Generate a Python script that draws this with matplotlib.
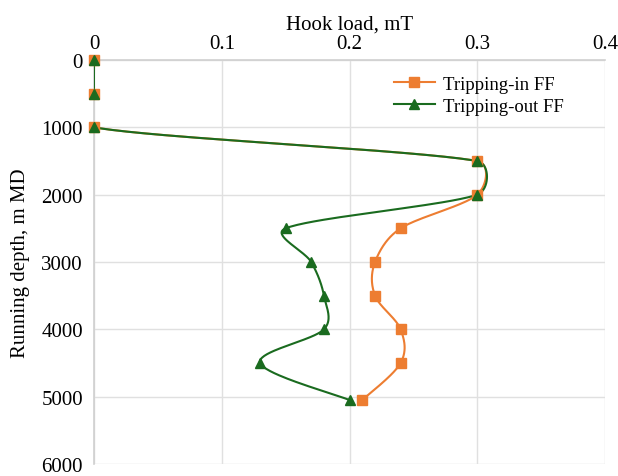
import numpy as np
import matplotlib
matplotlib.use('Agg')
import matplotlib.pyplot as plt
from matplotlib.lines import Line2D

plt.rcParams['font.family'] = ['Liberation Serif', 'DejaVu Serif']

# data
depth = [0, 500, 1000, 1500, 2000, 2500, 3000, 3500, 4000, 4500, 5050]
load_in = [0, 0, 0, 0.3, 0.3, 0.24, 0.22, 0.22, 0.24, 0.24, 0.21]
load_out = [0, 0, 0, 0.3, 0.3, 0.15, 0.17, 0.18, 0.18, 0.13, 0.20]

orange = '#ED7D31'
green = '#1A6B1F'

# excel-like smoothing: bezier with 1/6 tangents, handles capped by segment length
def handle( d, seg_len, k = 0.4 ):
    h = d / 6
    ln = np.linalg.norm( h )
    if ln > k * seg_len and ln > 0:
        h = h * ( k * seg_len / ln )
    return h

def smooth( x, y, sx, sy, n = 40 ):
    p = np.column_stack( [ np.array( x ) * sx, np.array( y ) * sy ] )
    m = len( p )
    out = []
    for i in range( m - 1 ):
        p0 = p[ max( i - 1, 0 ) ]
        p1 = p[ i ]
        p2 = p[ i + 1 ]
        p3 = p[ min( i + 2, m - 1 ) ]
        l12 = np.linalg.norm( p2 - p1 )
        c1 = p1 + handle( p2 - p0, l12 )
        c2 = p2 - handle( p3 - p1, l12 )
        t = np.linspace( 0, 1, n )[ :, None ]
        seg = ( 1 - t ) ** 3 * p1 + 3 * ( 1 - t ) ** 2 * t * c1 + 3 * ( 1 - t ) * t ** 2 * c2 + t ** 3 * p2
        out.append( seg )
    out = np.vstack( out )
    return out[ :, 0 ] / sx, out[ :, 1 ] / sy

fig = plt.figure( figsize = ( 6.18, 4.77 ), dpi = 100 )
ax = fig.add_axes( [ 94 / 618, 1 - 465 / 477, 511 / 618, 404 / 477 ] )

sx = 511 / 0.4
sy = 67.3 / 1000
for load, col, mk in [ ( load_in, orange, 's' ), ( load_out, green, '^' ) ]:
    xs, ys = smooth( load, depth, sx, sy )
    ax.plot( xs, ys, color = col, lw = 1.5, zorder = 3 )
    ax.plot( load, depth, ls = 'none', marker = mk, color = col, ms = 7, zorder = 4, clip_on = False )

ax.set_xlim( 0, 0.4 )
ax.set_ylim( 6000, 0 )
ax.set_xticks( [ 0, 0.1, 0.2, 0.3, 0.4 ] )
ax.set_xticklabels( [ '0', '0.1', '0.2', '0.3', '0.4' ] )
ax.set_yticks( range( 0, 6001, 1000 ) )
ax.xaxis.tick_top()
ax.xaxis.set_label_position( 'top' )
ax.tick_params( length = 0, labelsize = 15 )
ax.tick_params( axis = 'x', pad = 5 )
ax.tick_params( axis = 'y', pad = 8 )
ax.set_xlabel( 'Hook load, mT', fontsize = 15, labelpad = 4 )
ax.set_ylabel( 'Running depth, m MD', fontsize = 15, labelpad = 8 )
ax.grid( True, color = '#E0E0E0', lw = 1 )
ax.set_axisbelow( True )
for s in [ 'right', 'bottom' ]:
    ax.spines[ s ].set_visible( False )
for s in [ 'left', 'top' ]:
    ax.spines[ s ].set_color( '#D0D0D0' )
    ax.spines[ s ].set_linewidth( 1.2 )

handles = [ Line2D( [], [], color = orange, marker = 's', ms = 7, lw = 1.5 ),
            Line2D( [], [], color = green, marker = '^', ms = 7, lw = 1.5 ) ]
ax.legend( handles, [ 'Tripping-in FF', 'Tripping-out FF' ], loc = 'upper left',
           bbox_to_anchor = ( 0.572, 0.98 ), frameon = False, fontsize = 13.5,
           handlelength = 2.2, handletextpad = 0.4, labelspacing = 0.25, borderaxespad = 0 )

fig.savefig( 'out.png', dpi = 100 )
